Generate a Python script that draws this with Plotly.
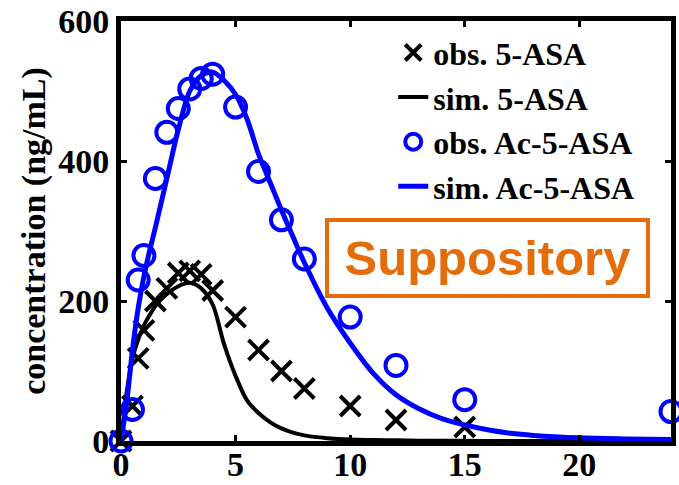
import plotly.graph_objects as go

# observed sampling times (h)
t_obs = [0, 0.5, 0.75, 1, 1.5, 2, 2.5, 3, 3.5, 4, 5, 6, 7, 8, 10, 12, 15, 24]
obs_5asa = [0, 50, 118, 158, 200, 218, 240, 243, 238, 215, 177, 130, 100, 75, 50, 30, 20, None]
obs_ac5asa = [0, 45, 230, 265, 375, 441, 475, 503, 518, 524, 477, 385, 316, 260, 177, 108, 59, 42]

# simulated profiles
t_sim = [0, 0.25, 0.5, 0.75, 1, 1.25, 1.5, 2, 2.5, 3, 3.5, 4, 4.5, 5, 5.5, 6, 6.5, 7, 7.5, 8,
         9, 10, 11, 12, 13, 14, 15, 16, 17, 18, 20, 22, 24]
sim_5asa = [0, 70, 118, 145, 165, 180, 193, 210, 221, 226, 218, 195, 138, 93, 58, 40, 27, 18, 12, 8,
            4, 2, 1.5, 1, 0.5, 0.3, 0.2, 0.1, 0, 0, 0, 0, 0]
sim_ac5asa = [0, 55, 130, 190, 235, 272, 305, 375, 445, 500, 522, 527, 515, 495, 460, 410, 370, 330, 292, 255,
              190, 140, 97, 66, 46, 32, 23, 16, 11, 8, 4.5, 3, 2]

x_ticks = [0, 5, 10, 15, 20]
y_ticks = [0, 200, 400, 600]

serif = "Liberation Serif, Times New Roman, serif"
orange = "#E46C0A"

fig = go.Figure()
fig.add_trace(go.Scatter(x=t_obs, y=obs_5asa, mode="markers", name="obs. 5-ASA",
                         marker=dict(symbol="x-thin-open", size=20, color="black",
                                     line=dict(color="black", width=4)),
                         cliponaxis=False))
fig.add_trace(go.Scatter(x=t_sim, y=sim_5asa, mode="lines", name="sim. 5-ASA",
                         line=dict(color="black", width=4, shape="spline", smoothing=0.8),
                         cliponaxis=False))
fig.add_trace(go.Scatter(x=t_obs, y=obs_ac5asa, mode="markers", name="obs. Ac-5-ASA",
                         marker=dict(symbol="circle-open", size=21, color="#0000FF",
                                     line=dict(color="#0000FF", width=4)),
                         cliponaxis=False))
fig.add_trace(go.Scatter(x=t_sim, y=sim_ac5asa, mode="lines", name="sim. Ac-5-ASA",
                         line=dict(color="#0000FF", width=5, shape="spline", smoothing=0.8),
                         cliponaxis=False))

axis_common = dict(showline=True, linewidth=5, linecolor="black", mirror="ticks",
                   ticks="inside", ticklen=6, tickwidth=3, tickcolor="black",
                   showgrid=False, zeroline=False, automargin=False,
                   ticklabeloverflow="allow")

fig.update_xaxes(range=[0, 24], tickvals=x_ticks, ticktext=[str(v) for v in x_ticks],
                 ticklabelstandoff=-11,
                 tickfont=dict(family=serif, size=34, color="black", weight="bold"),
                 **axis_common)
fig.update_yaxes(range=[0, 600], tickvals=y_ticks, ticktext=[str(v) for v in y_ticks],
                 tickfont=dict(family=serif, size=34, color="black", weight="bold"),
                 title=dict(text="concentration (ng/mL)", standoff=4,
                            font=dict(family=serif, size=34, color="black", weight="bold")),
                 **axis_common)

fig.add_annotation(x=16, y=262, xref="x", yref="y", text="Suppository", showarrow=False,
                   font=dict(family="Liberation Sans, Arial, sans-serif", size=49, color=orange,
                             weight="bold"),
                   bordercolor=orange, borderwidth=4, borderpad=0, bgcolor="white",
                   width=317, height=72)

fig.update_layout(
    width=679, height=485, autosize=False,
    margin=dict(l=121, r=8, t=21, b=44),
    plot_bgcolor="white", paper_bgcolor="white",
    showlegend=True,
    legend=dict(x=0.495, y=0.99, xanchor="left", yanchor="top",
                bgcolor="rgba(0,0,0,0)", borderwidth=0,
                font=dict(family=serif, size=32, color="black", weight="bold")),
)

fig.write_html("out.html")
